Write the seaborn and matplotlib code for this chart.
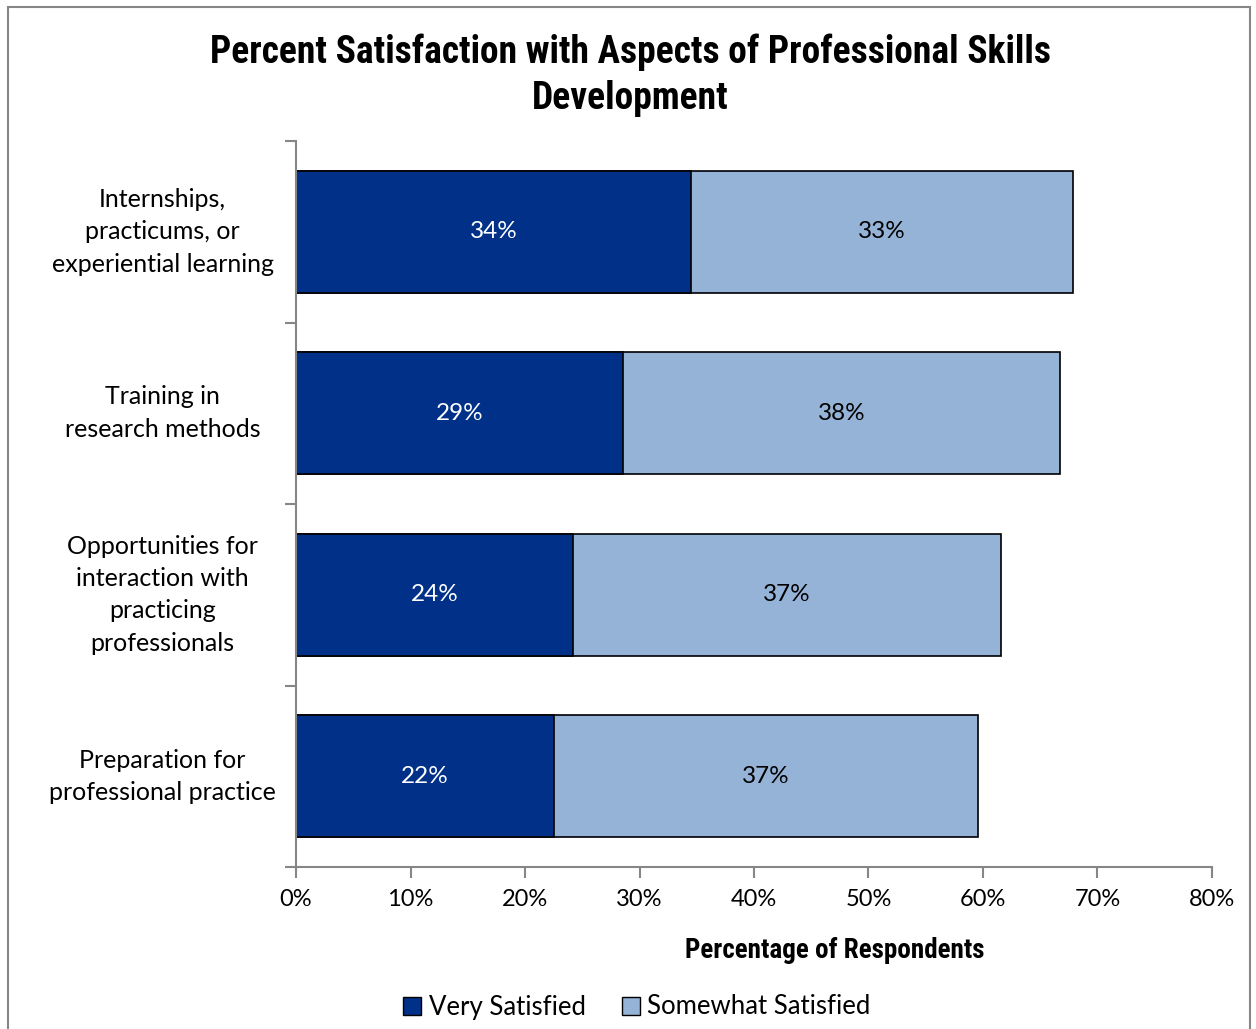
import numpy as np
import pandas as pd
import matplotlib
matplotlib.use('Agg')
import matplotlib.pyplot as plt
import seaborn as sns
from matplotlib.patches import Rectangle, Patch

sns.set_theme(style='white')
plt.rcParams['font.family'] = ['Lato', 'DejaVu Sans']
plt.rcParams['text.color'] = 'black'
plt.rcParams['xtick.color'] = 'black'
plt.rcParams['ytick.color'] = 'black'

# Data
aspects = ['Internships,\npracticums, or\nexperiential learning',
           'Training in\nresearch methods',
           'Opportunities for\ninteraction with\npracticing\nprofessionals',
           'Preparation for\nprofessional practice']
very_satisfied = [34.5, 28.6, 24.2, 22.5]
somewhat_satisfied = [33.4, 38.1, 37.4, 37.1]
x_ticks = [0, 10, 20, 30, 40, 50, 60, 70, 80]

dark = '#003087'
light = '#95B3D7'
grey = '#868686'
narrow = ['Liberation Sans Narrow', 'DejaVu Sans Condensed', 'Roboto Condensed', 'Roboto']

df = pd.DataFrame({'aspect': aspects,
                   'very': very_satisfied,
                   'somewhat': somewhat_satisfied})
df['total'] = df['very'] + df['somewhat']

fig = plt.figure(figsize=(12.56, 10.29), dpi=100)
ax = fig.add_axes([296 / 1256, 1 - 867 / 1029, 916 / 1256, 726 / 1029])

sns.barplot(data=df, x='total', y='aspect', orient='h', color=light,
            width=0.67, edgecolor='black', linewidth=1.2, saturation=1, ax=ax)
sns.barplot(data=df, x='very', y='aspect', orient='h', color=dark,
            width=0.67, edgecolor='black', linewidth=1.2, saturation=1, ax=ax)

# segment labels
for i, row in df.iterrows():
    ax.text(row['very'] / 2, i, f"{row['very']:.0f}%", color='white',
            ha='center', va='center', fontsize=17.5)
    ax.text(row['very'] + row['somewhat'] / 2, i, f"{row['somewhat']:.0f}%",
            color='black', ha='center', va='center', fontsize=17.5)

ax.set_xlim(0, 80)
ax.set_ylim(3.5, -0.5)
ax.set_xticks(x_ticks)
ax.set_xticklabels([f'{t}%' for t in x_ticks], fontsize=17)
ax.set_yticks(range(len(aspects)))
ax.set_yticklabels(aspects, fontsize=18, ha='center', va='center', linespacing=1.5)
ax.tick_params(axis='y', which='major', length=0, pad=96)
ax.set_yticks(np.arange(-0.5, 4.0, 1.0), minor=True)
ax.tick_params(axis='y', which='minor', length=8, width=1.5, color=grey, left=True)
ax.tick_params(axis='x', length=8, width=1.5, color=grey, bottom=True, pad=8)
ax.set_xlabel('')
ax.set_ylabel('')

for s in ['top', 'right']:
    ax.spines[s].set_visible(False)
for s in ['left', 'bottom']:
    ax.spines[s].set_color(grey)
    ax.spines[s].set_linewidth(1.5)

fig.text(835 / 1256, 1 - 951 / 1029, 'Percentage of Respondents',
         ha='center', va='center', fontsize=19.5, fontweight='bold', family=narrow)

fig.text(630 / 1256, 1 - 75 / 1029,
         'Percent Satisfaction with Aspects of Professional Skills\nDevelopment',
         ha='center', va='center', fontsize=27, fontweight='bold',
         linespacing=1.3, family=narrow)

handles = [Patch(facecolor=dark, edgecolor='black', label='Very Satisfied'),
           Patch(facecolor=light, edgecolor='black', label='Somewhat Satisfied')]
fig.legend(handles=handles, loc='center', bbox_to_anchor=(637 / 1256, 1 - 1007 / 1029),
           ncol=2, frameon=False, fontsize=18.5, handlelength=0.7, handleheight=0.7,
           handletextpad=0.3, columnspacing=1.4)

fig.patches.append(Rectangle((8 / 1256, -0.05), 1242 / 1256, 1.05 - 7 / 1029,
                             transform=fig.transFigure, fill=False,
                             edgecolor=grey, linewidth=1.5))

fig.savefig('out.png', dpi=100)
